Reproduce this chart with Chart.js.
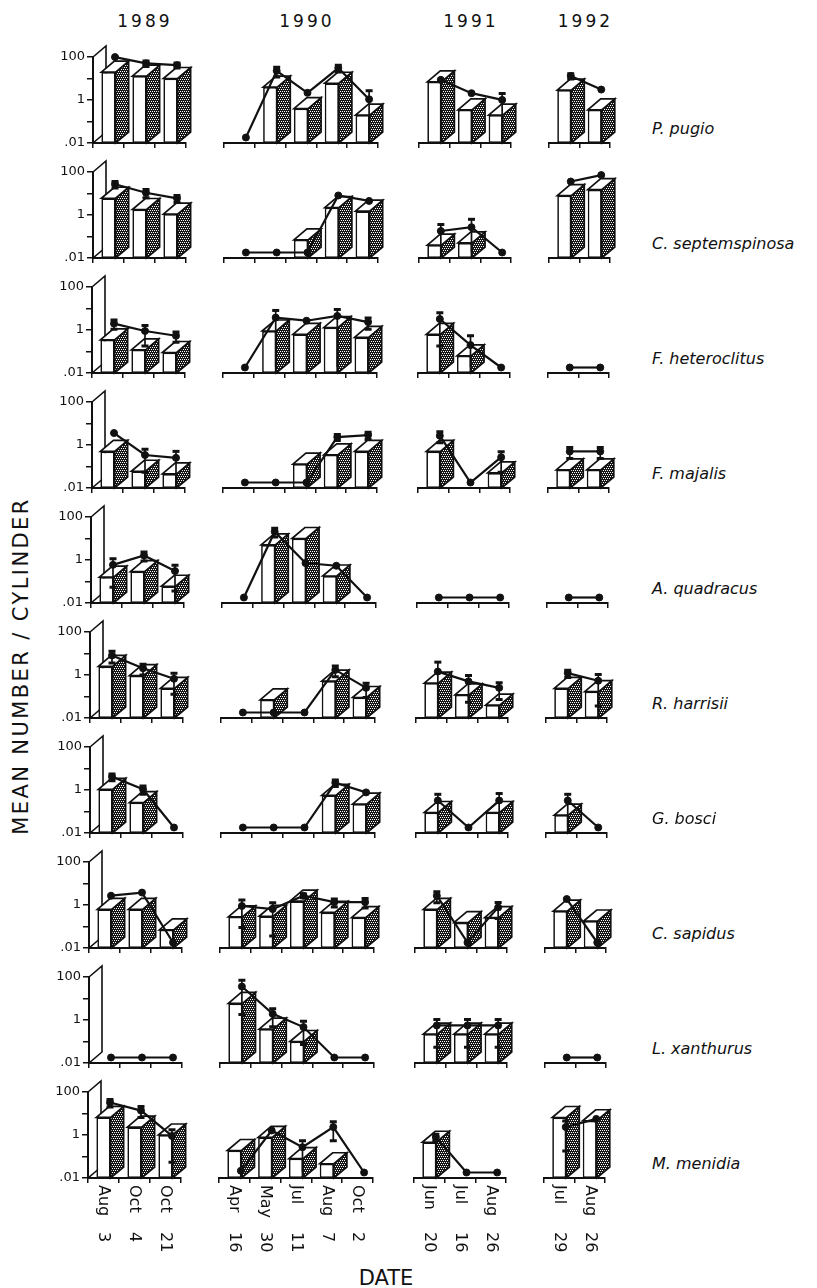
<!DOCTYPE html>
<html>
<head>
<meta charset="utf-8">
<script src="https://cdn.jsdelivr.net/npm/chart.js@4.4.0/dist/chart.umd.min.js"></script>
<style>
  body { margin: 0; background: #fff; width: 817px; height: 1288px; position: relative; overflow: hidden; }
  canvas { position: absolute; }
  .lbl { position: absolute; white-space: nowrap; color: #111; font-family: "DejaVu Sans", sans-serif; }
</style>
</head>
<body>
<script>
// Survey panels: one small log-scale bar + line chart per species and year

const years = ['1989', '1990', '1991', '1992'];
const dates = [
  ['Aug 3', 'Oct 4', 'Oct 21'],
  ['Apr 16', 'May 30', 'Jul 11', 'Aug 7', 'Oct 2'],
  ['Jun 20', 'Jul 16', 'Aug 26'],
  ['Jul 29', 'Aug 26']
];
const species = ['P. pugio', 'C. septemspinosa', 'F. heteroclitus', 'F. majalis', 'A. quadracus',
  'R. harrisii', 'G. bosci', 'C. sapidus', 'L. xanthurus', 'M. menidia'];
const yTicks = [0.01, 0.1, 1, 10, 100];
const yTickLabels = { 100: '100', 1: '1', 0.01: '.01' };

// values per year: bars (null = no bar), means (line), se (error bar, null = none)
const pugioBars  = [[20, 13, 10], [null, 4, 0.4, 6, 0.2], [7, 0.35, 0.2], [2.9, 0.35]];
const pugioMeans = [[55, 28, 23], [0.01, 12.6, 1.2, 17, 0.6], [4.8, 1.15, 0.56], [7.3, 1.7]];
const pugioSE    = [[null, 8, 6], [null, 6, null, 6, 0.9], [null, null, 0.55], [2, null]];

const septemBars  = [[6, 1.8, 1.1], [null, null, 0.07, 2.2, 1.5], [0.04, 0.05, null], [8, 15]];
const septemMeans = [[15, 6, 3.3], [0.01, 0.01, 0.01, 4.5, 2.5], [0.1, 0.15, 0.01], [20, 40]];
const septemSE    = [[5, 2.5, 1.2], [null, null, null, null, null], [0.1, 0.2, null], [null, null]];

const heteroBars  = [[0.35, 0.12, 0.09], [null, 0.9, 0.63, 1.3, 0.45], [0.63, 0.063, null], [null, null]];
const heteroMeans = [[1.1, 0.5, 0.3], [0.01, 2.1, 1.5, 2.5, 1.3], [1.8, 0.11, 0.01], [0.01, 0.01]];
const heteroSE    = [[0.5, 0.4, 0.15], [null, 2.4, null, 2.5, 0.7], [1.7, 0.19, null], [null, null]];

const majalisBars  = [[0.5, 0.06, 0.045], [null, null, 0.13, 0.35, 0.5], [0.5, null, 0.05], [0.07, 0.07]];
const majalisMeans = [[2, 0.19, 0.14], [0.01, 0.01, 0.01, 1.3, 1.6], [1.5, 0.01, 0.15], [0.28, 0.28]];
const majalisSE    = [[null, 0.16, 0.14], [null, null, null, 0.4, 0.6], [0.8, null, 0.12], [0.15, 0.15]];

const quadBars  = [[0.16, 0.29, 0.06], [null, 5, 10, 0.18, null], [null, null, null], [null, null]];
const quadMeans = [[0.33, 0.9, 0.17], [0.01, 11.5, 0.4, 0.3, 0.01], [0.01, 0.01, 0.01], [0.01, 0.01]];
const quadSE    = [[0.3, 0.4, 0.15], [null, 5, null, null, null], [null, null, null], [null, null]];

const harrisBars  = [[2.5, 0.93, 0.24], [null, 0.07, null, 0.52, 0.09], [0.42, 0.12, 0.04], [0.24, 0.17]];
const harrisMeans = [[4.5, 1.15, 0.37], [0.01, 0.01, 0.01, 0.96, 0.14], [0.8, 0.28, 0.14], [0.68, 0.3]];
const harrisSE    = [[2.5, 0.6, 0.3], [null, null, null, 0.5, 0.09], [1.4, 0.25, 0.1], [0.25, 0.28]];

const bosciBars  = [[1.07, 0.26, null], [null, null, null, 0.56, 0.22], [0.09, null, 0.09], [0.068, null]];
const bosciMeans = [[2.3, 0.6, 0.01], [0.01, 0.01, 0.01, 1.2, 0.43], [0.18, 0.01, 0.18], [0.18, 0.01]];
const bosciSE    = [[0.8, 0.25, null], [null, null, null, 0.4, null], [0.17, null, 0.2], [0.17, null]];

const sapidusBars  = [[0.63, 0.63, 0.07], [0.28, 0.3, 1.5, 0.45, 0.26], [0.63, 0.15, 0.26], [0.52, 0.18]];
const sapidusMeans = [[1.5, 2.1, 0.01], [0.5, 0.36, 1.5, 0.75, 0.75], [1.5, 0.01, 0.43], [1.05, 0.01]];
const sapidusSE    = [[null, null, null], [0.45, 0.34, 0.3, 0.3, 0.35], [0.8, null, 0.3], [null, null]];

const xanthBars  = [[null, null, null], [5.9, 0.38, 0.1, null, null], [0.22, 0.22, 0.22], [null, null]];
const xanthMeans = [[0.01, 0.01, 0.01], [20, 1.07, 0.26, 0.01, 0.01], [0.31, 0.31, 0.31], [0.01, 0.01]];
const xanthSE    = [[null, null, null], [19, 0.8, 0.22, null, null], [0.28, 0.28, 0.28], [null, null]];

const menidiaBars  = [[6.6, 2.3, 1.0], [0.19, 0.78, 0.08, 0.046, null], [0.46, null, null], [6.5, 4.6]];
const menidiaMeans = [[18, 7.6, 0.5], [0.012, 0.9, 0.15, 1.3, 0.01], [0.45, 0.01, 0.01], [1.3, 3.1]];
const menidiaSE    = [[7, 4, 0.47], [null, null, 0.15, 1.0, null], [0.15, null, null], [1.2, null]];

const rows = [
  { bars: pugioBars, means: pugioMeans, se: pugioSE },
  { bars: septemBars, means: septemMeans, se: septemSE },
  { bars: heteroBars, means: heteroMeans, se: heteroSE },
  { bars: majalisBars, means: majalisMeans, se: majalisSE },
  { bars: quadBars, means: quadMeans, se: quadSE },
  { bars: harrisBars, means: harrisMeans, se: harrisSE },
  { bars: bosciBars, means: bosciMeans, se: bosciSE },
  { bars: sapidusBars, means: sapidusMeans, se: sapidusSE },
  { bars: xanthBars, means: xanthMeans, se: xanthSE },
  { bars: menidiaBars, means: menidiaMeans, se: menidiaSE }
];

// ---- layout ----
const INK = '#111';
const FONT = '"DejaVu Sans", sans-serif';
const CAT_W = 31, PLOT_H = 86, DX = 13, DY = 11;
const Y_AXIS_W = 44, PAD_TOP = 24, PAD_RIGHT = 20, X_AXIS_H = 8;
const colStart = [88, 219, 414, 544];
const baseline = r => 143 + 115 * r;
const rowShift = r => (9 - r) * 0.6;   // the scan leans a little

let dotPattern = null;
function getPattern(ctx) {
  if (dotPattern) return dotPattern;
  const tile = document.createElement('canvas');
  tile.width = 4; tile.height = 4;
  const t = tile.getContext('2d');
  t.fillStyle = '#161616';
  t.fillRect(0, 0, 4, 4);
  t.fillStyle = '#fff';
  t.fillRect(0, 0, 1, 1); t.fillRect(2, 0, 1, 1);
  t.fillRect(1, 2, 1, 1); t.fillRect(3, 2, 1, 1);
  dotPattern = ctx.createPattern(tile, 'repeat');
  return dotPattern;
}

// draws the pseudo-3D wall, box faces, shifted line, error bars and date labels
const box3d = {
  id: 'box3d',
  beforeDatasetsDraw(chart) {
    const p = chart.canvas.panel;
    if (!p.wall) return;
    const { ctx, chartArea: a } = chart;
    ctx.save();
    ctx.strokeStyle = INK; ctx.lineWidth = 1.6; ctx.fillStyle = '#fff';
    ctx.beginPath();
    ctx.moveTo(a.left, a.bottom);
    ctx.lineTo(a.left, a.top);
    ctx.lineTo(a.left + DX, a.top - DY);
    ctx.lineTo(a.left + DX, a.bottom - DY);
    ctx.closePath();
    ctx.fill(); ctx.stroke();
    ctx.restore();
  },
  beforeDatasetDraw(chart, args) {
    if (args.index !== 1) return;
    chart.ctx.save();
    chart.ctx.translate(DX / 2, -DY / 2);
  },
  afterDatasetDraw(chart, args) {
    const ctx = chart.ctx;
    const p = chart.canvas.panel;
    if (args.index === 0) {
      ctx.save();
      ctx.strokeStyle = INK; ctx.lineWidth = 1.7; ctx.lineJoin = 'miter';
      args.meta.data.forEach((bar, i) => {
        if (p.bars[i] == null) return;
        const { x, y, base, width } = bar.getProps(['x', 'y', 'base', 'width'], true);
        const l = x - width / 2, r = x + width / 2;
        ctx.beginPath();
        ctx.moveTo(r, y); ctx.lineTo(r + DX, y - DY);
        ctx.lineTo(r + DX, base - DY); ctx.lineTo(r, base);
        ctx.closePath();
        ctx.fillStyle = getPattern(ctx); ctx.fill(); ctx.stroke();
        ctx.beginPath();
        ctx.moveTo(l, y); ctx.lineTo(l + DX, y - DY);
        ctx.lineTo(r + DX, y - DY); ctx.lineTo(r, y);
        ctx.closePath();
        ctx.fillStyle = '#fff'; ctx.fill(); ctx.stroke();
      });
      ctx.restore();
      return;
    }
    if (args.index !== 1) return;
    const ys = chart.scales.y;
    ctx.strokeStyle = INK; ctx.lineWidth = 1.7;
    args.meta.data.forEach((pt, i) => {
      const s = p.se[i];
      if (s == null) return;
      const m = p.means[i];
      const hi = ys.getPixelForValue(m + s);
      const lowVal = m - s;
      const lo = ys.getPixelForValue(Math.max(lowVal, 0.0105));
      ctx.beginPath();
      ctx.moveTo(pt.x, hi); ctx.lineTo(pt.x, lo);
      ctx.stroke();
      ctx.lineWidth = 3;
      ctx.beginPath();
      ctx.moveTo(pt.x - 3.5, hi); ctx.lineTo(pt.x + 3.5, hi);
      if (lowVal > 0.012) { ctx.moveTo(pt.x - 3.5, lo); ctx.lineTo(pt.x + 3.5, lo); }
      ctx.stroke();
      ctx.lineWidth = 1.7;
    });
    ctx.restore();
  },
  afterDraw(chart) {
    const p = chart.canvas.panel;
    if (!p.dates) return;
    const { ctx, chartArea: a } = chart;
    const xs = chart.scales.x;
    ctx.save();
    ctx.fillStyle = INK;
    ctx.font = '16px ' + FONT;
    ctx.textBaseline = 'middle';
    ctx.textAlign = 'left';
    p.dates.forEach((label, i) => {
      const [month, day] = label.split(' ');
      ctx.save();
      ctx.translate(xs.getPixelForValue(i), a.bottom + 7);
      ctx.rotate(Math.PI / 2);
      ctx.fillText(month, 0, 0);
      ctx.fillText(day, 47, 0);
      ctx.restore();
    });
    ctx.restore();
  }
};

function buildPanel(r, c) {
  const sp = rows[r];
  const n = dates[c].length;
  const showY = c === 0;
  const isLast = r === rows.length - 1;
  const padLeft = showY ? 0 : 4;
  const padBottom = isLast ? 72 : 4;

  const canvas = document.createElement('canvas');
  canvas.width = padLeft + (showY ? Y_AXIS_W : 0) + n * CAT_W + PAD_RIGHT;
  canvas.height = PAD_TOP + PLOT_H + X_AXIS_H + padBottom;
  canvas.panel = { wall: showY, dates: isLast ? dates[c] : null,
    bars: sp.bars[c], means: sp.means[c], se: sp.se[c] };
  document.body.appendChild(canvas);

  const chart = new Chart(canvas, {
    type: 'bar',
    data: {
      labels: dates[c],
      datasets: [{
        type: 'bar',
        data: sp.bars[c],
        order: 1,
        clip: false,
        backgroundColor: '#fff',
        borderColor: INK,
        borderWidth: 1.7,
        borderSkipped: false,
        barPercentage: 0.46,
        categoryPercentage: 1
      }, {
        type: 'line',
        data: sp.means[c],
        order: 0,
        clip: false,
        borderColor: INK,
        borderWidth: 2.2,
        pointRadius: 3.5,
        pointBackgroundColor: INK,
        pointBorderColor: INK,
        pointBorderWidth: 1
      }]
    },
    options: {
      responsive: false,
      animation: false,
      devicePixelRatio: 1,
      events: [],
      layout: { padding: { top: PAD_TOP, right: PAD_RIGHT, bottom: padBottom, left: padLeft } },
      plugins: { legend: { display: false }, tooltip: { enabled: false } },
      scales: {
        x: {
          type: 'category',
          offset: true,
          grid: { offset: true, drawOnChartArea: false, drawTicks: true, tickLength: 5, color: INK, lineWidth: 1.5 },
          border: { display: true, color: INK, width: 2, z: 1 },
          ticks: { display: false },
          afterFit: s => { s.height = X_AXIS_H; }
        },
        y: {
          type: 'logarithmic',
          display: showY,
          min: 0.01,
          max: 100,
          afterBuildTicks: s => { s.ticks = yTicks.map(v => ({ value: v })); },
          afterFit: s => { s.width = showY ? Y_AXIS_W : 0; },
          grid: { drawOnChartArea: false, drawTicks: true, tickLength: 6, color: INK, lineWidth: 1.5 },
          border: { display: true, color: INK, width: 2, z: 1 },
          ticks: {
            color: INK,
            padding: 2,
            font: { family: FONT, size: 13 },
            callback: v => yTickLabels[v] || ''
          }
        }
      }
    },
    plugins: [box3d]
  });

  const a = chart.chartArea;
  canvas.style.left = (colStart[c] + rowShift(r) - a.left) + 'px';
  canvas.style.top = (baseline(r) - a.bottom) + 'px';
}

function addText(text, x, y, css, transform) {
  const d = document.createElement('div');
  d.className = 'lbl';
  d.textContent = text;
  d.style.left = x + 'px';
  d.style.top = y + 'px';
  Object.assign(d.style, css);
  d.style.transform = transform;
  document.body.appendChild(d);
}

rows.forEach((sp, r) => {
  years.forEach((yr, c) => buildPanel(r, c));
  addText(species[r], 652, baseline(r) - 15, { fontSize: '16px', fontStyle: 'italic' }, 'translateY(-50%)');
});

years.forEach((yr, c) => {
  const cx = colStart[c] + rowShift(0) + dates[c].length * CAT_W / 2 + 5;
  addText(yr, cx, 21, { fontSize: '17px', letterSpacing: '3px' }, 'translate(-50%, -50%)');
});

addText('MEAN NUMBER / CYLINDER', 21, 666, { fontSize: '21px', letterSpacing: '2.4px' }, 'translate(-50%, -50%) rotate(-90deg)');
addText('DATE', 386, 1278, { fontSize: '21px' }, 'translate(-50%, -50%)');
</script>
</body>
</html>
